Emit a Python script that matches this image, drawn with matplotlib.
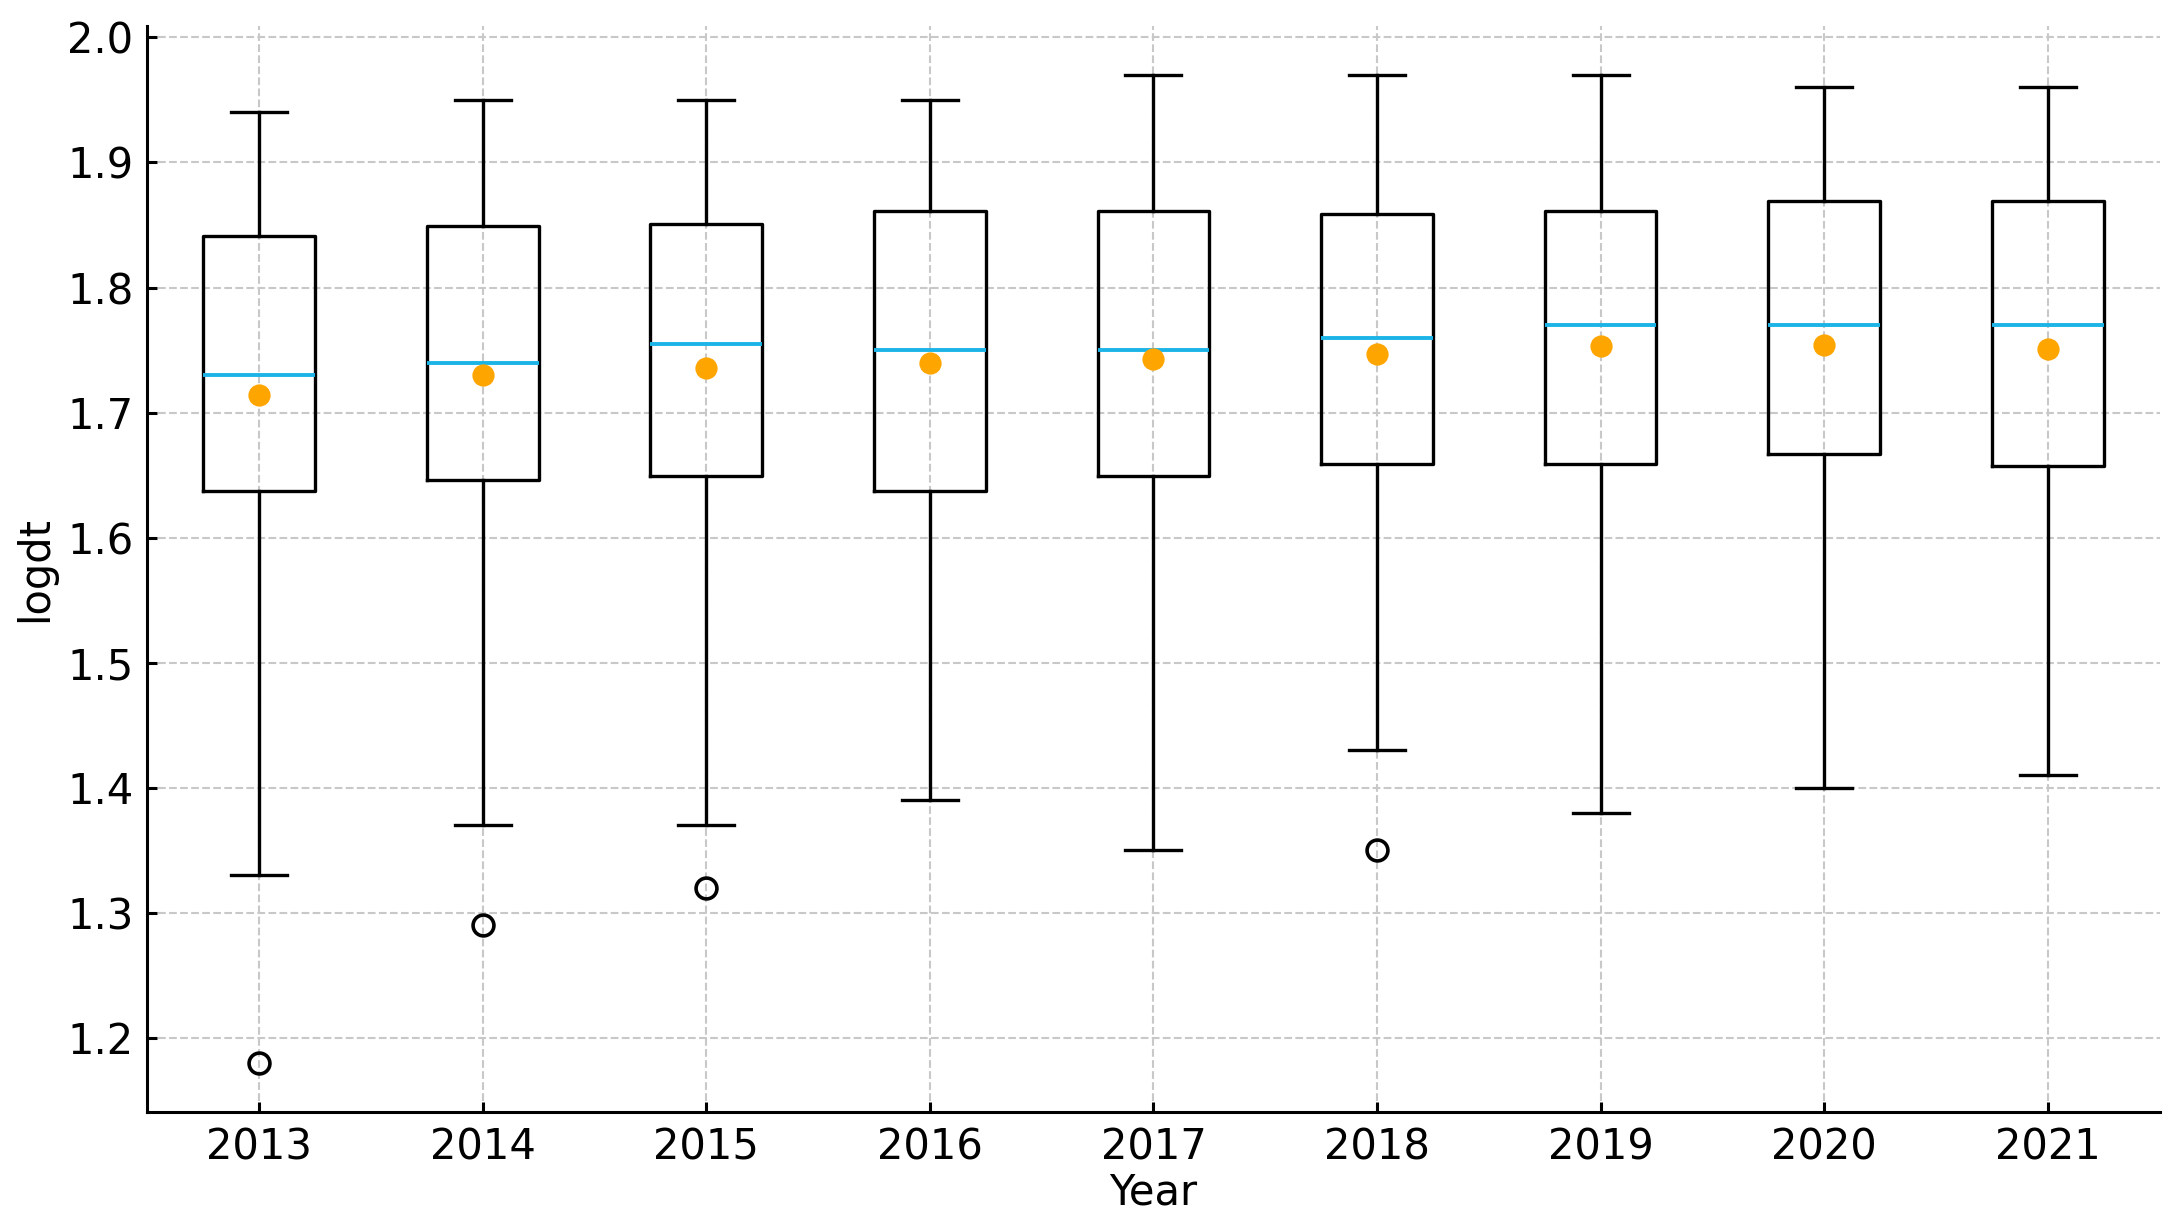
import matplotlib
matplotlib.use("Agg")
import matplotlib.pyplot as plt

# values
years = [2013, 2014, 2015, 2016, 2017, 2018, 2019, 2020, 2021]
whislo = [1.33, 1.37, 1.37, 1.39, 1.35, 1.43, 1.38, 1.40, 1.41]
q1 = [1.637, 1.646, 1.649, 1.637, 1.649, 1.659, 1.659, 1.667, 1.657]
med = [1.73, 1.74, 1.755, 1.75, 1.75, 1.76, 1.77, 1.77, 1.77]
q3 = [1.841, 1.849, 1.851, 1.861, 1.861, 1.859, 1.861, 1.869, 1.869]
whishi = [1.94, 1.95, 1.95, 1.95, 1.97, 1.97, 1.97, 1.96, 1.96]
means = [1.714, 1.730, 1.736, 1.740, 1.743, 1.747, 1.753, 1.754, 1.751]
fliers = [[1.18], [1.29], [1.32], [], [], [1.35], [], [], []]

stats = []
for i in range(len(years)):
  stats.append(dict(label=str(years[i]), whislo=whislo[i], q1=q1[i], med=med[i],
                    q3=q3[i], whishi=whishi[i], mean=means[i], fliers=fliers[i]))

fig, ax = plt.subplots(figsize=(10.83, 6.085), dpi=200)
fig.subplots_adjust(left=0.068, right=0.997, bottom=0.086, top=0.979)

lw = 1.2
ax.bxp(stats, showmeans=True, widths=0.5,
       boxprops=dict(color="black", linewidth=lw),
       whiskerprops=dict(color="black", linewidth=lw),
       capprops=dict(color="black", linewidth=lw),
       medianprops=dict(color="#1cb4e6", linewidth=1.4),
       meanprops=dict(marker="o", markerfacecolor="#ffa500", markeredgecolor="#ffa500", markersize=7),
       flierprops=dict(marker="o", markerfacecolor="none", markeredgecolor="black",
                       markersize=7.5, markeredgewidth=1.3))

# layout
ax.spines["top"].set_visible(False)
ax.spines["right"].set_visible(False)
ax.spines["left"].set_linewidth(1.1)
ax.spines["bottom"].set_linewidth(1.1)
ax.tick_params(direction="in", length=3.5, width=1.1, labelsize=15, pad=5)
ax.grid(True, linestyle="--", color="#c8c8c8", linewidth=0.75)
ax.set_axisbelow(True)

# titles
ax.set_xlabel("Year", fontsize=15, labelpad=1)
ax.set_ylabel("logdt", fontsize=15)

fig.savefig("out.png", dpi=200)
